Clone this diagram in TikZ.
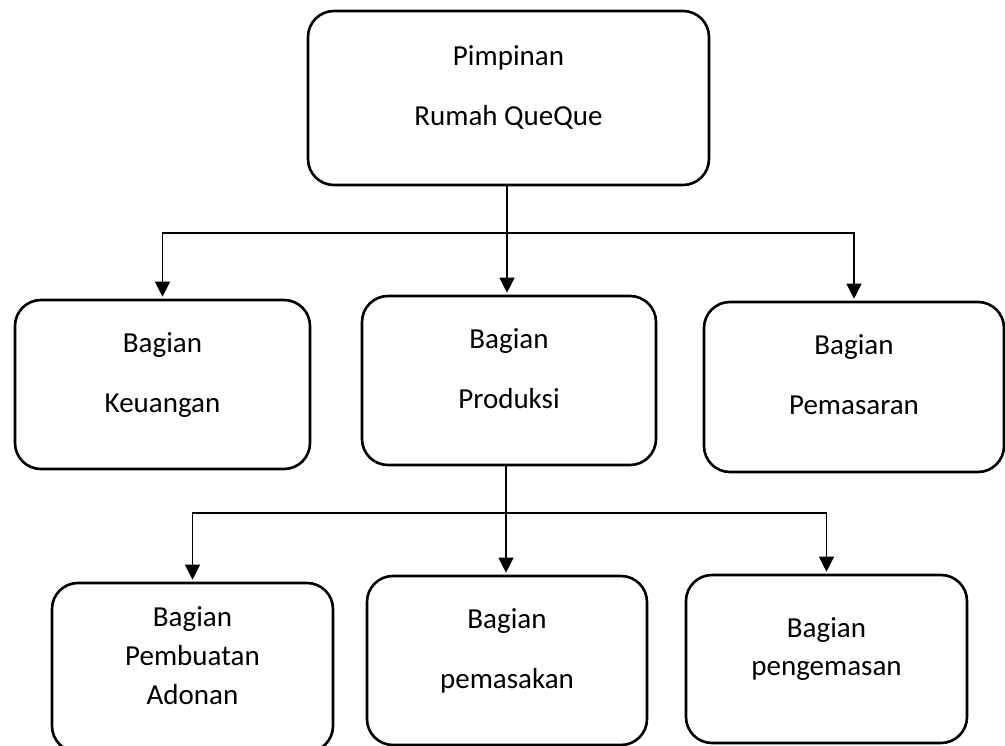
\documentclass[tikz,border=0pt]{standalone}
\usepackage{fontspec}
\setmainfont{Carlito}
\usetikzlibrary{arrows.meta}

\begin{document}
\begin{tikzpicture}[
x=1pt, y=-1pt,
font=\fontsize{29}{35}\selectfont
]

\tikzstyle{kt} = [draw, shape=rectangle, line width=2.6pt, rounded corners=26pt, inner sep=0pt, align=center, text depth=24pt]
\tikzstyle{pn} = [line width=1.2pt, -{Triangle[length=15pt, width=15pt]}, shorten >=2pt]

\useasboundingbox (0,0) rectangle (1005,746);

% pimpinan
\node[kt, minimum width=401pt, minimum height=174pt] (pimpinan) at (508.5,98) {Pimpinan\\[25pt]Rumah QueQue};

% bagian level 1
\node[kt, minimum width=295pt, minimum height=169pt] (keuangan) at (162.5,384.5) {Bagian\\[25pt]Keuangan};
\node[kt, minimum width=294pt, minimum height=169pt] (produksi) at (509,380.5) {Bagian\\[25pt]Produksi};
\node[kt, minimum width=300pt, minimum height=170pt] (pemasaran) at (854,387) {Bagian\\[25pt]Pemasaran};

% bagian produksi
\node[kt, minimum width=281pt, minimum height=169pt] (adonan) at (192.5,667.5) {Bagian\\[4pt]Pembuatan\\[4pt]Adonan};
\node[kt, minimum width=280pt, minimum height=169pt] (pemasakan) at (507,660.5) {Bagian\\[25pt]pemasakan};
\node[kt, minimum width=281pt, minimum height=168pt] (pengemasan) at (826.5,659) {Bagian\\[3pt]pengemasan};

\coordinate (cabang1) at (507,233);
\coordinate (cabang2) at (506,513);

\draw[pn] (pimpinan.south -| cabang1) -- (produksi.north -| cabang1);
\draw[pn] (cabang1) -| (keuangan.north);
\draw[pn] (cabang1) -| (pemasaran.north);

\draw[pn] (produksi.south -| cabang2) -- (pemasakan.north -| cabang2);
\draw[pn] (cabang2) -| (adonan.north);
\draw[pn] (cabang2) -| (pengemasan.north);
\end{tikzpicture}
\end{document}
